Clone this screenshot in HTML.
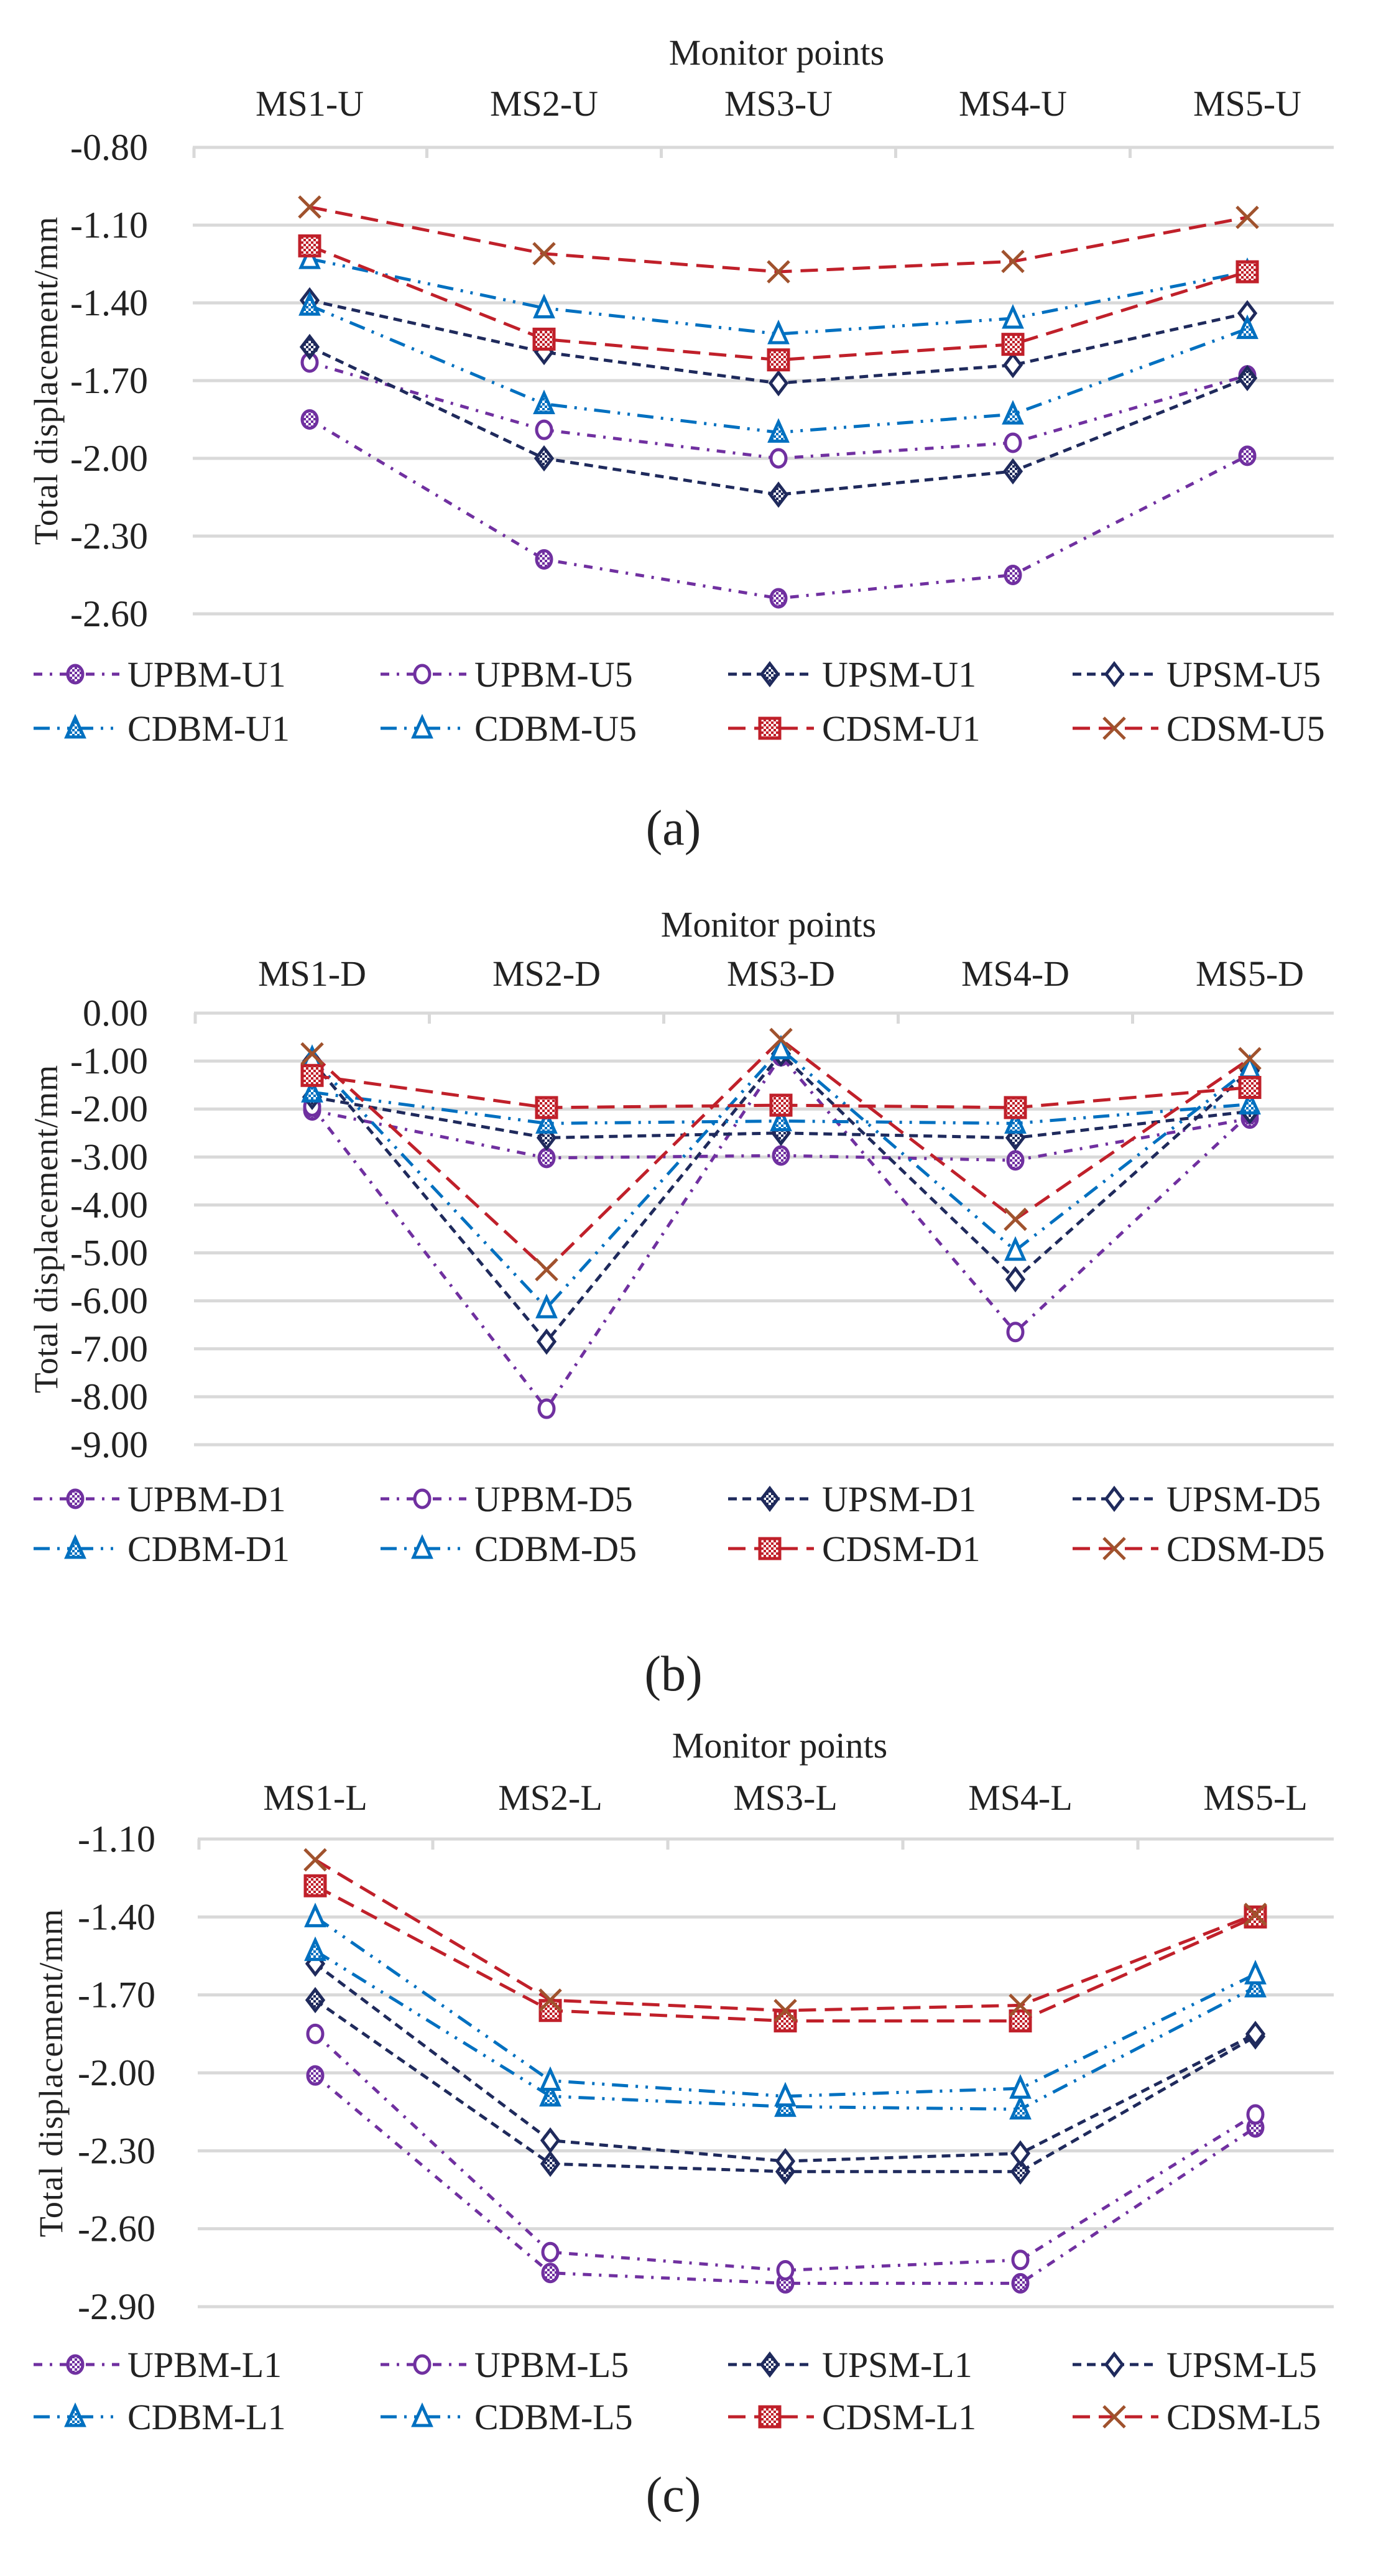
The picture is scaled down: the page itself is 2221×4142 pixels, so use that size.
<!DOCTYPE html>
<html><head><meta charset="utf-8"><style>
html,body{margin:0;padding:0;background:#fff;}
svg{display:block;font-family:"Liberation Serif",serif;}
</style></head><body>
<svg id="root" width="2221" height="4142" viewBox="0 0 2221 4142" xmlns="http://www.w3.org/2000/svg">
<defs>
<pattern id="chkPurple" width="8" height="8" patternUnits="userSpaceOnUse"><rect width="8" height="8" fill="#fff"/><rect width="4" height="4" fill="#7030a0"/><rect x="4" y="4" width="4" height="4" fill="#7030a0"/></pattern>
<pattern id="chkNavy" width="8" height="8" patternUnits="userSpaceOnUse"><rect width="8" height="8" fill="#fff"/><rect width="4" height="4" fill="#1f2a5c"/><rect x="4" y="4" width="4" height="4" fill="#1f2a5c"/></pattern>
<pattern id="chkBlue" width="8" height="8" patternUnits="userSpaceOnUse"><rect width="8" height="8" fill="#fff"/><rect width="4" height="4" fill="#0070c0"/><rect x="4" y="4" width="4" height="4" fill="#0070c0"/></pattern>
<pattern id="chkRed" width="8" height="8" patternUnits="userSpaceOnUse"><rect width="8" height="8" fill="#fff"/><rect width="4" height="4" fill="#c0202a"/><rect x="4" y="4" width="4" height="4" fill="#c0202a"/></pattern>
</defs>
</svg>
<script>
// ---- Chart (a) data ----
const catsA = ["MS1-U","MS2-U","MS3-U","MS4-U","MS5-U"];
const ticksA = ["-0.80","-1.10","-1.40","-1.70","-2.00","-2.30","-2.60"];
const upbmU1 = [-1.85,-2.39,-2.54,-2.45,-1.99];
const upbmU5 = [-1.63,-1.89,-2.00,-1.94,-1.68];
const upsmU1 = [-1.57,-2.00,-2.14,-2.05,-1.69];
const upsmU5 = [-1.39,-1.59,-1.71,-1.64,-1.44];
const cdbmU1 = [-1.41,-1.79,-1.90,-1.83,-1.50];
const cdbmU5 = [-1.23,-1.42,-1.52,-1.46,-1.28];
const cdsmU1 = [-1.18,-1.54,-1.62,-1.56,-1.28];
const cdsmU5 = [-1.03,-1.21,-1.28,-1.24,-1.07];
// ---- Chart (b) data ----
const catsB = ["MS1-D","MS2-D","MS3-D","MS4-D","MS5-D"];
const ticksB = ["0.00","-1.00","-2.00","-3.00","-4.00","-5.00","-6.00","-7.00","-8.00","-9.00"];
const upbmD1 = [-2.03,-3.02,-2.97,-3.07,-2.20];
const upbmD5 = [-1.95,-8.25,-0.90,-6.65,-2.10];
const upsmD1 = [-1.75,-2.60,-2.50,-2.60,-2.05];
const upsmD5 = [-1.00,-6.85,-0.85,-5.55,-1.20];
const cdbmD1 = [-1.65,-2.30,-2.25,-2.30,-1.90];
const cdbmD5 = [-0.95,-6.15,-0.75,-4.95,-1.15];
const cdsmD1 = [-1.30,-1.97,-1.92,-1.97,-1.55];
const cdsmD5 = [-0.85,-5.35,-0.55,-4.30,-0.95];
// ---- Chart (c) data ----
const catsC = ["MS1-L","MS2-L","MS3-L","MS4-L","MS5-L"];
const ticksC = ["-1.10","-1.40","-1.70","-2.00","-2.30","-2.60","-2.90"];
const upbmL1 = [-2.01,-2.77,-2.81,-2.81,-2.21];
const upbmL5 = [-1.85,-2.69,-2.76,-2.72,-2.16];
const upsmL1 = [-1.72,-2.35,-2.38,-2.38,-1.86];
const upsmL5 = [-1.58,-2.26,-2.34,-2.31,-1.85];
const cdbmL1 = [-1.53,-2.09,-2.13,-2.14,-1.67];
const cdbmL5 = [-1.40,-2.03,-2.09,-2.06,-1.62];
const cdsmL1 = [-1.28,-1.76,-1.80,-1.80,-1.40];
const cdsmL5 = [-1.18,-1.72,-1.76,-1.74,-1.39];

const NS="http://www.w3.org/2000/svg";
const root=document.getElementById('root');
function mk(tag,attrs,parent){const e=document.createElementNS(NS,tag);for(const k in attrs)e.setAttribute(k,attrs[k]);(parent||root).appendChild(e);return e;}

const STY={
 upbm:{c:"#7030a0",dash:"14 12 4 12",chk:"url(#chkPurple)",m:"circle"},
 upsm:{c:"#1f2a5c",dash:"14 9",chk:"url(#chkNavy)",m:"diamond"},
 cdbm:{c:"#0070c0",dash:"26 12 4 12 4 12",chk:"url(#chkBlue)",m:"triangle"},
 cdsm:{c:"#c0202a",dash:"28 14",chk:"url(#chkRed)",m:"square"}
};

function marker(g,kind,style,filled,x,y){
 const c=style.c, fill=filled?style.chk:"#fff", sw=5;
 if(kind==="x"){
  const s=17;
  mk('path',{d:`M${x-s} ${y-s}L${x+s} ${y+s}M${x+s} ${y-s}L${x-s} ${y+s}`,stroke:"#a0522d","stroke-width":5,fill:"none"},g);
  return;
 }
 if(style.m==="circle") mk('ellipse',{cx:x,cy:y,rx:12,ry:14,fill:fill,stroke:c,"stroke-width":sw},g);
 else if(style.m==="diamond") mk('path',{d:`M${x} ${y-17}L${x+13} ${y}L${x} ${y+17}L${x-13} ${y}Z`,fill:fill,stroke:c,"stroke-width":sw},g);
 else if(style.m==="triangle") mk('path',{d:`M${x} ${y-17}L${x+14} ${y+14}L${x-14} ${y+14}Z`,fill:fill,stroke:c,"stroke-width":sw},g);
 else mk('rect',{x:x-16,y:y-16,width:32,height:32,fill:fill,stroke:c,"stroke-width":sw},g);
}

function drawChart(cfg){
 const g=mk('g',{});
 
 
 const n=cfg.cats.length;
 const xOf=i=>cfg.cx0+i*cfg.step;
 const yOf=v=>cfg.top+(cfg.vmax-v)/(cfg.vmax-cfg.vmin)*(cfg.bottom-cfg.top);
 const t=mk('text',{x:cfg.titleX,y:cfg.titleY,"font-size":58,"text-anchor":"middle",fill:"#222"},g);
 t.textContent="Monitor points";
 
 
 cfg.ticks.forEach(lbl=>{
  const v=parseFloat(lbl), y=yOf(v);
  const gl=mk('line',{x1:cfg.left,x2:cfg.right,y1:y,y2:y,stroke:"#d9d9d9","stroke-width":5},g);
  
  
  const tl=mk('text',{x:cfg.labelX,y:y+20,"font-size":60,"text-anchor":"end",fill:"#222"},g);
  tl.textContent=lbl;
  
  
 });
 const ty=yOf(cfg.vmax);
 for(let i=0;i<n;i++){
  const bx=cfg.cx0-cfg.step/2+i*cfg.step;
  const tk=mk('line',{x1:Math.max(bx,cfg.left+2),x2:Math.max(bx,cfg.left+2),y1:ty,y2:ty+17,stroke:"#d9d9d9","stroke-width":5},g);
  
  
  const cl=mk('text',{x:xOf(i),y:cfg.catY,"font-size":58,"text-anchor":"middle",fill:"#222"},g);
  cl.textContent=cfg.cats[i];
  
  
 }
 const cy=(cfg.top+cfg.bottom)/2;
 const yt=mk('text',{x:0,y:0,"font-size":54,"text-anchor":"middle",fill:"#222","letter-spacing":"1",transform:`translate(${cfg.ytitleX},${cy}) rotate(-90)`},g);
 yt.textContent="Total displacement/mm";
 
 
 cfg.series.forEach((s,si)=>{
  const st=STY[s.type];
  const sg=mk('g',{},g);
  
  
  const pts=s.data.map((v,i)=>xOf(i)+","+yOf(v)).join(" ");
  mk('polyline',{points:pts,fill:"none",stroke:st.c,"stroke-width":5,"stroke-dasharray":st.dash},sg);
  s.data.forEach((v,i)=>marker(sg,s.x?"x":"m",st,s.filled,xOf(i),yOf(v)));
  const col=si%4,row=Math.floor(si/4);
  const lx=cfg.legX[col], ly=cfg.legY[row];
  const lg=mk('g',{},g);
  
  
  mk('line',{x1:lx,x2:lx+138,y1:ly,y2:ly,stroke:st.c,"stroke-width":5,"stroke-dasharray":st.dash},lg);
  marker(lg,s.x?"x":"m",st,s.filled,lx+67,ly);
  const lt=mk('text',{x:lx+151,y:ly+20,"font-size":58,fill:"#222"},lg);
  lt.textContent=s.label;
 });
 const cap=mk('text',{x:1083,y:cfg.capY,"font-size":80,"text-anchor":"middle",fill:"#222"},g);
 cap.textContent=cfg.caption;
 
 
}

const legX=[54,612,1171,1725];
drawChart({name:"chart-a",cats:catsA,ticks:ticksA,vmax:-0.8,vmin:-2.6,top:237,bottom:987,left:310,right:2145,cx0:498,step:377,
 titleX:1249,titleY:104,catY:186,labelX:238,ytitleX:92,legX:legX,legY:[1084,1171],capY:1358,caption:"(a)",
 series:[{label:"UPBM-U1",type:"upbm",filled:true,data:upbmU1},{label:"UPBM-U5",type:"upbm",filled:false,data:upbmU5},
 {label:"UPSM-U1",type:"upsm",filled:true,data:upsmU1},{label:"UPSM-U5",type:"upsm",filled:false,data:upsmU5},
 {label:"CDBM-U1",type:"cdbm",filled:true,data:cdbmU1},{label:"CDBM-U5",type:"cdbm",filled:false,data:cdbmU5},
 {label:"CDSM-U1",type:"cdsm",filled:true,data:cdsmU1},{label:"CDSM-U5",type:"cdsm",filled:false,x:true,data:cdsmU5}]});
drawChart({name:"chart-b",cats:catsB,ticks:ticksB,vmax:0,vmin:-9,top:1629,bottom:2323,left:312,right:2145,cx0:502,step:377,
 titleX:1236,titleY:1506,catY:1585,labelX:238,ytitleX:92,legX:legX,legY:[2410,2490],capY:2718,caption:"(b)",
 series:[{label:"UPBM-D1",type:"upbm",filled:true,data:upbmD1},{label:"UPBM-D5",type:"upbm",filled:false,data:upbmD5},
 {label:"UPSM-D1",type:"upsm",filled:true,data:upsmD1},{label:"UPSM-D5",type:"upsm",filled:false,data:upsmD5},
 {label:"CDBM-D1",type:"cdbm",filled:true,data:cdbmD1},{label:"CDBM-D5",type:"cdbm",filled:false,data:cdbmD5},
 {label:"CDSM-D1",type:"cdsm",filled:true,data:cdsmD1},{label:"CDSM-D5",type:"cdsm",filled:false,x:true,data:cdsmD5}]});
drawChart({name:"chart-c",cats:catsC,ticks:ticksC,vmax:-1.1,vmin:-2.9,top:2957,bottom:3709,left:318,right:2145,cx0:507,step:378,
 titleX:1254,titleY:2826,catY:2910,labelX:250,ytitleX:100,legX:legX,legY:[3802,3886],capY:4038,caption:"(c)",
 series:[{label:"UPBM-L1",type:"upbm",filled:true,data:upbmL1},{label:"UPBM-L5",type:"upbm",filled:false,data:upbmL5},
 {label:"UPSM-L1",type:"upsm",filled:true,data:upsmL1},{label:"UPSM-L5",type:"upsm",filled:false,data:upsmL5},
 {label:"CDBM-L1",type:"cdbm",filled:true,data:cdbmL1},{label:"CDBM-L5",type:"cdbm",filled:false,data:cdbmL5},
 {label:"CDSM-L1",type:"cdsm",filled:true,data:cdsmL1},{label:"CDSM-L5",type:"cdsm",filled:false,x:true,data:cdsmL5}]});
</script>
</body></html>
